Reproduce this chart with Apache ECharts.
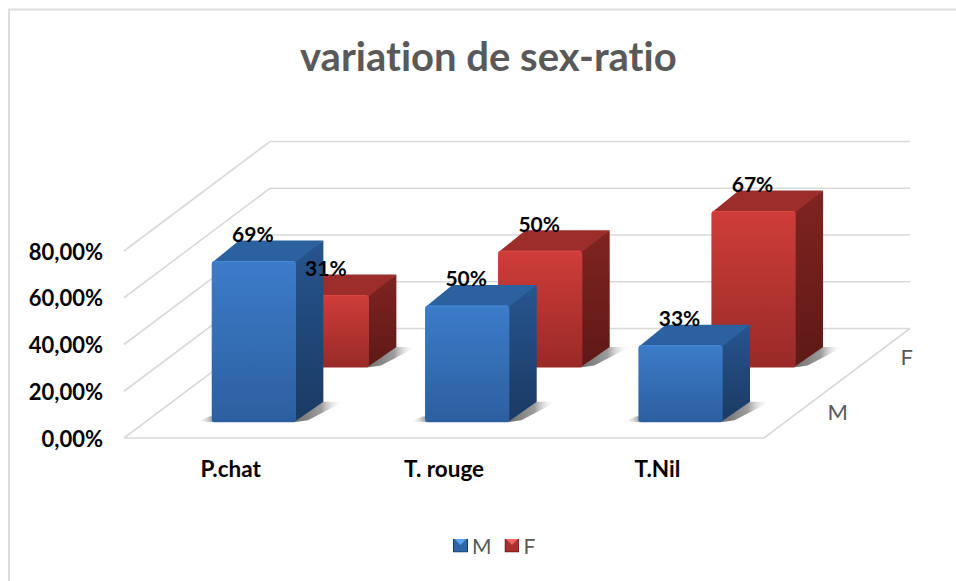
<!DOCTYPE html>
<html><head><meta charset="utf-8">
<style>html,body{margin:0;padding:0;background:#fff}#c{width:956px;height:581px}svg text{font-variant-ligatures:none}</style>
<script src="https://cdn.jsdelivr.net/npm/echarts@6/dist/echarts.min.js"></script>
</head><body><div id="c"></div>
<script>
const titleText = 'variation de sex-ratio';
const categories = ['P.chat', 'T. rouge', 'T.Nil'];
const depthLabels = ['M', 'F'];
const valuesM = [69, 50, 33];
const valuesF = [31, 50, 67];
const yTicks = [0, 20, 40, 60, 80];

const DX = 146, DY = -109.5;          // full depth of the 3D floor in pixels
const chart = echarts.init(document.getElementById('c'), null, {renderer: 'svg'});
const vg = (a, b) => new echarts.graphic.LinearGradient(0, 0, 0, 1, [{offset: 0, color: a}, {offset: 1, color: b}]);
const palettes = [
  {front: vg('#3c7cc9', '#2c5f9f'), side: vg('#26558f', '#1a3a63'), top: '#2c619f', label: '#3a78c4', hi: '#4a8ad6'},
  {front: vg('#cf3d39', '#982a27'), side: vg('#7f2421', '#5e1916'), top: '#9c2d2a', label: '#c93a36', hi: '#dc4a46'}
];
const svgIcon = (base, light, dark) => 'image://data:image/svg+xml;utf8,' + encodeURIComponent(
  `<svg xmlns="http://www.w3.org/2000/svg" width="15" height="14"><rect width="15" height="14" fill="${dark}"/><rect x="1" y="0" width="13" height="13" fill="${base}"/><polygon points="1,0 14,0 7.5,6.5" fill="${light}"/></svg>`);
const legendIcons = [svgIcon('#2f66a8', '#5ba3ee', '#173a66'), svgIcon('#a83030', '#ee6460', '#5e1916')];

function wallsItem(params, api) {
  const kids = [];
  const line = pts => ({type: 'polyline', shape: {points: pts}, style: {fill: null, stroke: '#d9d9d9', lineWidth: 1.6}});
  const xStart = api.coord([0, 0])[0] - api.size([1, 0])[0] / 2;
  const xEnd = xStart + api.size([1, 0])[0] * categories.length;
  yTicks.forEach(t => {
    const y = api.coord([0, t])[1];
    kids.push(line([[xStart, y], [xStart + DX, y + DY], [xEnd + DX, y + DY]]));
  });
  const y0 = api.coord([0, 0])[1];
  kids.push(line([[xStart, y0], [xEnd, y0], [xEnd + DX, y0 + DY]]));
  depthLabels.forEach((s, i) => {
    const f = (i + 0.5) / depthLabels.length;
    kids.push({type: 'text', style: {text: s, x: xEnd + DX * f + 27, y: y0 + DY * f + 1, fill: '#595959', font: '22px "Lato"', textAlign: 'left', textVerticalAlign: 'middle'}});
  });
  return {type: 'group', children: kids};
}

function geom(seriesIndex, api) {
  const c = api.value(0), v = api.value(1);
  const catW = api.size([1, 0])[0];
  const p0 = api.coord([c, 0]), p1 = api.coord([c, v]);
  const w = catW * 0.395, slot = 1 / depthLabels.length;
  const inset = slot * 0.304, thick = slot * 0.375;
  const fx = inset + seriesIndex * slot;
  const x0 = p0[0] + DX * fx - w / 2 + 1, x1 = x0 + w;
  return {v, w, x0, x1, yb: p0[1] + DY * fx + 1, yt: p1[1] + DY * fx + 1, dx: DX * thick, dy: DY * thick};
}

function barItem(seriesIndex) {
  return function (params, api) {
    const {w, x0, x1, yb, yt, dx, dy} = geom(seriesIndex, api);
    const pal = palettes[seriesIndex];
    const fade = new echarts.graphic.LinearGradient(0, 0, 1, 0, [{offset: 0, color: 'rgba(60,60,60,0.75)'}, {offset: 0.55, color: 'rgba(90,90,90,0.6)'}, {offset: 1, color: 'rgba(255,255,255,0)'}]);
    const fadeL = new echarts.graphic.LinearGradient(0, 0, 1, 0, [{offset: 0, color: 'rgba(200,200,200,0)'}, {offset: 1, color: 'rgba(110,110,110,0.7)'}]);
    return {type: 'group', children: [
      {type: 'polygon', shape: {points: [[x1 - 2, yb], [x1 + dx - 2, yb + dy], [x1 + dx + 20, yb + dy], [x1 + 12, yb - 2]]}, style: {fill: fade}},
      {type: 'polygon', shape: {points: [[x0 - 14, yb - 1], [x0 - 2, yb - 6], [x0 + 2, yb - 6], [x0 + 2, yb]]}, style: {fill: fadeL}},
      {type: 'polygon', shape: {points: [[x1 - 2, yt], [x1 + dx, yt + dy], [x1 + dx, yb + dy], [x1 - 2, yb]]}, style: {fill: pal.side}},
      {type: 'polygon', shape: {points: [[x0 + 1, yt + 1], [x0 + dx, yt + dy], [x1 + dx, yt + dy], [x1, yt + 1]]}, style: {fill: pal.top}},
      {type: 'rect', shape: {x: x0, y: yt, width: w, height: yb - yt, r: 3}, style: {fill: pal.front}},
      {type: 'line', shape: {x1: x0 + 2, y1: yt + 0.5, x2: x1 - 2, y2: yt + 0.5}, style: {stroke: pal.hi, lineWidth: 1}}
    ]};
  };
}
function labelItem(seriesIndex) {
  return function (params, api) {
    const {v, x0, x1, yt, dy} = geom(seriesIndex, api);
    return {type: 'text', style: {text: v + '%', x: (x0 + x1) / 2 - 1, y: yt + dy - 7, fill: '#000', font: 'bold 21px "Lato"', textAlign: 'center', textVerticalAlign: 'middle'}};
  };
}
const toData = arr => arr.map((v, i) => [i, v]);

chart.setOption({
  animation: false,
  backgroundColor: '#fff',
  title: {text: titleText, left: 295, top: 31,
    textStyle: {fontFamily: 'Lato', fontWeight: 'bold', fontSize: 40, color: '#595959'}},
  legend: {top: 530, left: 448, itemWidth: 15, itemHeight: 14, itemGap: 13,
    textStyle: {fontFamily: 'Lato', fontSize: 21, color: '#595959', padding: [0, 0, 0, -1]},
    data: [{name: 'M', icon: legendIcons[0]}, {name: 'F', icon: legendIcons[1]}]},
  grid: {left: 124, right: 192, top: 251, bottom: 143},
  xAxis: {type: 'category', data: categories, axisLine: {show: false}, axisTick: {show: false}, splitLine: {show: false},
    axisLabel: {interval: 0, margin: 19, color: '#000', fontFamily: 'Lato', fontWeight: 'bold', fontSize: 22.5}},
  yAxis: {type: 'value', min: 0, max: 80, interval: 20, axisLine: {show: false}, axisTick: {show: false}, splitLine: {show: false},
    axisLabel: {margin: 21, padding: [9, 0, 0, 0], color: '#000', fontFamily: 'Lato', fontWeight: 'bold', fontSize: 22,
      formatter: v => v.toFixed(2).replace('.', ',') + '%'}},
  series: [
    {type: 'custom', name: 'walls', silent: true, z: 1, renderItem: wallsItem, data: [[0, 0]]},
    {type: 'custom', name: 'F', z: 2, renderItem: barItem(1), data: toData(valuesF), itemStyle: {color: palettes[1].label}},
    {type: 'custom', name: 'M', z: 3, renderItem: barItem(0), data: toData(valuesM), itemStyle: {color: palettes[0].label}},
    {type: 'custom', name: 'F labels', z: 10, silent: true, renderItem: labelItem(1), data: toData(valuesF)},
    {type: 'custom', name: 'M labels', z: 10, silent: true, renderItem: labelItem(0), data: toData(valuesM)}
  ],
  graphic: [{type: 'polyline', silent: true, shape: {points: [[956, 9.5], [9, 9.5], [9, 581]]}, style: {fill: null, stroke: '#dcdcdc', lineWidth: 2}}]
});
</script></body></html>
